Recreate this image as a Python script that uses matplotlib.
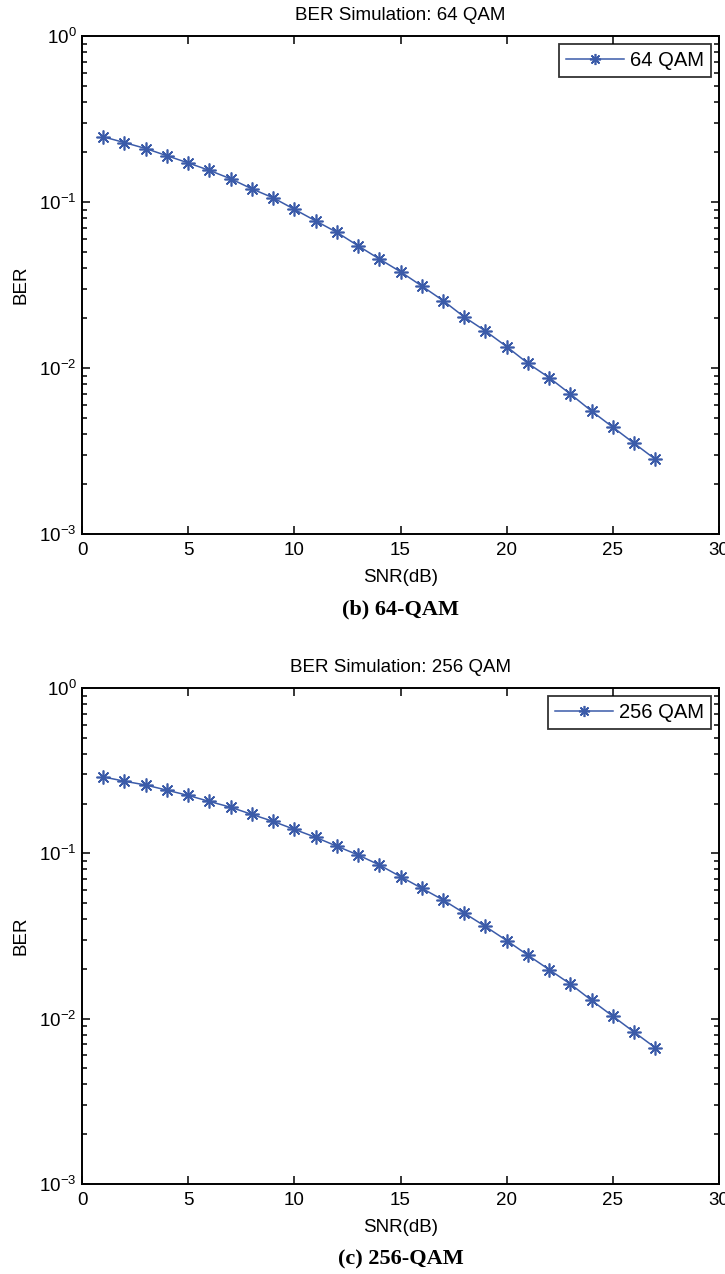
import numpy as np
import matplotlib.pyplot as plt
from matplotlib.ticker import LogLocator, NullFormatter, MultipleLocator

plt.rcParams['font.family'] = ['Liberation Sans', 'DejaVu Sans']
plt.rcParams['mathtext.fontset'] = 'custom'
plt.rcParams['mathtext.rm'] = 'Liberation Sans'
plt.rcParams['mathtext.it'] = 'Liberation Sans'
plt.rcParams['mathtext.default'] = 'regular'

#   SNR points (dB) and BER
snr = np.arange(1, 28)
ber_64 = [0.247, 0.228, 0.210, 0.190, 0.172, 0.155, 0.138, 0.120, 0.106,
          0.0904, 0.0770, 0.0657, 0.0545, 0.0454, 0.0380, 0.0312, 0.0255,
          0.0203, 0.0167, 0.01345, 0.01067, 0.00875, 0.00697, 0.00550,
          0.00440, 0.00352, 0.00282]
ber_256 = [0.290, 0.273, 0.259, 0.241, 0.224, 0.206, 0.190, 0.172, 0.156,
           0.1397, 0.125, 0.1105, 0.0978, 0.0851, 0.0723, 0.0615, 0.0523,
           0.0435, 0.0361, 0.0297, 0.0242, 0.0198, 0.0162, 0.0129, 0.01035,
           0.0083, 0.00667]

panels = [
    ('BER Simulation: 64 QAM', '64 QAM', ber_64, '(b) 64-QAM'),
    ('BER Simulation: 256 QAM', '256 QAM', ber_256, '(c) 256-QAM'),
]

W, H = 725, 1274
fig = plt.figure(figsize=(W / 100, H / 100), dpi=100)

#   axes boxes in pixels: left, top, right, bottom
boxes = [(82, 36, 719, 534), (82, 688, 719, 1184)]
line_col = '#3b5ba9'
fs = 13.5

for (title, lab, ber, caption), (l, t, r, b) in zip(panels, boxes):
    ax = fig.add_axes([l / W, 1 - b / H, (r - l) / W, (b - t) / H])
    # matlab style asterisk marker
    ax.semilogy(snr, ber, '-', color=line_col, lw=1.1, marker=(8, 2, 0),
                markersize=10, markeredgewidth=1.2, label=lab)
    ax.set_xlim(0, 30)
    ax.set_ylim(1e-3, 1)
    ax.xaxis.set_major_locator(MultipleLocator(5))
    ax.yaxis.set_major_locator(LogLocator(base=10, numticks=10))
    ax.yaxis.set_minor_locator(LogLocator(base=10, subs=np.arange(2, 10), numticks=10))
    ax.yaxis.set_minor_formatter(NullFormatter())
    ax.tick_params(which='both', direction='in', top=True, right=True,
                   labelsize=fs, width=1.1, colors='black')
    ax.tick_params(which='major', length=6)
    ax.tick_params(which='minor', length=3.5)
    ax.tick_params(axis='x', pad=6)
    ax.tick_params(axis='y', pad=4)
    for s in ax.spines.values():
        s.set_linewidth(1.4)

    ax.text(0.5, 1.042, title, transform=ax.transAxes, ha='center', va='center',
            fontsize=fs)
    ax.set_xlabel('SNR(dB)', fontsize=fs, va='center')
    ax.xaxis.set_label_coords(0.5, -0.087)
    ax.set_ylabel('BER', fontsize=fs)
    ax.yaxis.set_label_coords(-0.082, 0.5)

    leg = ax.legend(loc='upper right', bbox_to_anchor=(0.988, 0.984),
                    borderaxespad=0, fontsize=14.5, fancybox=False,
                    handlelength=2.9, handletextpad=0.3, borderpad=0.35,
                    markerscale=0.8)
    leg.get_frame().set_edgecolor('black')
    leg.get_frame().set_linewidth(1.3)

    fig.text((l + r) / 2 / W, 1 - (b + 75) / H, caption, ha='center', va='center',
             fontsize=16, fontweight='bold', family='Liberation Serif')

fig.savefig('out.png', dpi=100)
